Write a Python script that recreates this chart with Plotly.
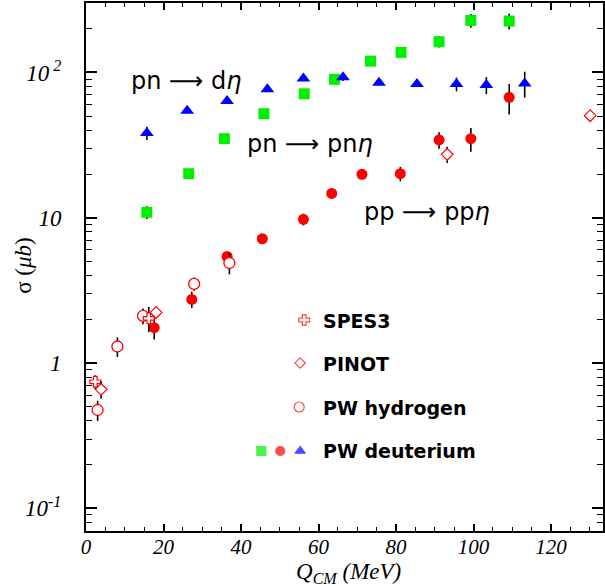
import plotly.graph_objects as go

# ---------------- data ----------------
# PW deuterium, pn -> d eta (blue triangles)
deta_x = [15.7, 26.1, 36.4, 46.8, 56.1, 66.3, 75.6, 85.4, 95.6, 103.3, 113.2]
deta_y = [38.3, 54.5, 63.6, 76.5, 91.0, 92.5, 84.9, 83.2, 83.2, 81.9, 84.1]
deta_err = [4, 2, 2, 2, 3, 5, 2, 3, 9, 11, 17]

# PW deuterium, pn -> pn eta (green squares)
pneta_x = [15.7, 26.5, 35.7, 45.9, 56.3, 64.1, 73.4, 81.3, 91.1, 99.3, 109.2]
pneta_y = [10.9, 20.1, 35.0, 52.0, 71.3, 89.7, 119.7, 137.5, 162.7, 228, 225.7]
pneta_err = [1.1, 0.8, 1, 1.5, 2, 2, 3, 4, 14, 25, 28]

# PW deuterium, pp -> pp eta (red filled circles)
ppeta_x = [17.6, 27.3, 36.4, 45.5, 56.1, 63.4, 71.2, 81.1, 91.1, 99.3, 109.2]
ppeta_y = [1.75, 2.74, 5.42, 7.17, 9.75, 14.7, 19.9, 20.1, 34.3, 35.0, 67.4]
ppeta_err = [0.3, 0.35, 0.3, 0.3, 0.9, 0.5, 1, 2.3, 4.5, 6.5, 16]

# PW hydrogen (open red circles)
hyd_x = [3.0, 8.1, 14.7, 27.9, 37.0]
hyd_y = [0.475, 1.30, 2.11, 3.51, 4.88]
hyd_err = [0.075, 0.2, 0.26, 0.37, 0.8]

# SPES3 (open red crosses)
spes_x = [2.4, 16.2]
spes_y = [0.743, 2.03]
spes_err = [0.08, 0.4]

# PINOT (open red diamonds)
pinot_x = [3.9, 18.1, 93.2, 130.1]
pinot_y = [0.659, 2.23, 27.3, 50.4]
pinot_err = [0.09, 0.2, 3.5, 0]

# axis ticks
x_ticks = [0, 20, 40, 60, 80, 100, 120]
x_ticktext = ["<i>%d</i>" % v for v in x_ticks]
y_tickvals = [0.1, 1, 10, 100]
y_ticktext = ["<i>10<sup>-1</sup></i>", "<i>1</i>", "<i>10</i>", "<i>10<sup> 2</sup></i>"]

# text labels
reaction_labels = ["pn ⟶ d<i>η</i>", "pn ⟶ pn<i>η</i>", "pp ⟶ pp<i>η</i>"]
legend_labels = ["SPES3", "PINOT", "PW hydrogen", "PW deuterium"]

# ---------------- styling ----------------
RED, GREEN, BLUE = "#ff0000", "#00f000", "#0000ff"
SERIF = "Liberation Serif"
SANS = "DejaVu Sans"


def err(vals):
    return dict(type="data", array=vals, color="black", thickness=1.6, width=0, visible=True)


fig = go.Figure()

fig.add_trace(go.Scatter(x=pneta_x, y=pneta_y, mode="markers", error_y=err(pneta_err),
                         marker=dict(symbol="square", size=11, color=GREEN, line=dict(width=0))))
fig.add_trace(go.Scatter(x=deta_x, y=deta_y, mode="markers", error_y=err(deta_err),
                         marker=dict(symbol="triangle-up", size=12, color=BLUE, line=dict(width=0))))
fig.add_trace(go.Scatter(x=ppeta_x, y=ppeta_y, mode="markers", error_y=err(ppeta_err),
                         marker=dict(symbol="circle", size=11, color=RED, line=dict(width=0))))
fig.add_trace(go.Scatter(x=hyd_x, y=hyd_y, mode="markers", error_y=err(hyd_err),
                         marker=dict(symbol="circle", size=11, color="white", line=dict(width=1.3, color=RED))))
fig.add_trace(go.Scatter(x=spes_x, y=spes_y, mode="markers", error_y=err(spes_err),
                         marker=dict(symbol="cross", size=9, color="white", line=dict(width=1.2, color=RED))))
fig.add_trace(go.Scatter(x=pinot_x, y=pinot_y, mode="markers", error_y=err(pinot_err),
                         marker=dict(symbol="diamond", size=9, color="white", line=dict(width=1.2, color=RED))))

# ---- custom legend on a pixel-like overlay axis ----
key_x = [305, 301, 300, 262, 281, 301]
key_y = [320, 363, 407, 451, 451, 451]
key_symbols = ["cross", "diamond", "circle", "square", "circle", "triangle-up"]
key_fill = ["white", "white", "white", GREEN, RED, BLUE]
key_line = [RED, RED, RED, GREEN, RED, BLUE]
key_size = [9, 8, 10, 9, 9, 9]
fig.add_trace(go.Scatter(x=key_x, y=key_y, xaxis="x2", yaxis="y2", mode="markers",
                         marker=dict(symbol=key_symbols, size=key_size, color=key_fill,
                                     line=dict(width=1.2, color=key_line))))

legend_text_y = [321, 363.5, 407.5, 450.5]
for lab, ty in zip(legend_labels, legend_text_y):
    fig.add_annotation(x=322, y=ty, xref="x2", yref="y2", text=lab, showarrow=False,
                       xanchor="left", yanchor="middle",
                       font=dict(family=SANS, size=19, color="black", weight="bold"))

reaction_pos = [(187, 81), (311, 144), (428, 212)]
for lab, (px, py) in zip(reaction_labels, reaction_pos):
    fig.add_annotation(x=px, y=py, xref="x2", yref="y2", text=lab, showarrow=False,
                       xanchor="center", yanchor="middle",
                       font=dict(family=SANS, size=24, color="black"))

# axis titles (paper coordinates, outside the plot area)
fig.add_annotation(x=0.5087, y=-0.08, xref="paper", yref="paper", showarrow=False,
                   text="<i>Q</i><sub><i>CM</i></sub><i> (MeV)</i>",
                   font=dict(family=SERIF, size=23, color="black"),
                   xanchor="center", yanchor="middle")
fig.add_annotation(x=-0.12, y=0.504, xref="paper", yref="paper", showarrow=False, textangle=-90,
                   text="σ (<i>μb</i>)", font=dict(family=SERIF, size=23, color="black"),
                   xanchor="center", yanchor="middle")

minor_y = [m * 10 ** e for e in range(-2, 3) for m in range(2, 10)]

fig.update_layout(
    width=605, height=586,
    margin=dict(l=86, r=0, t=3, b=55),
    paper_bgcolor="white", plot_bgcolor="white",
    showlegend=False,
    xaxis=dict(range=[0, 133.4], showline=True, linewidth=2, linecolor="black", mirror="ticks",
               ticks="inside", ticklen=7, tickwidth=1.5, tickcolor="black",
               tickmode="array", tickvals=x_ticks, ticktext=x_ticktext,
               minor=dict(ticks="inside", ticklen=4, tickwidth=1, tickcolor="black", dtick=5, tick0=0,
                          showgrid=False),
               tickfont=dict(family=SERIF, size=21, color="black"),
               ticklabelstandoff=-4,
               showgrid=False, zeroline=False),
    yaxis=dict(type="log", range=[-1.156, 2.478], showline=True, linewidth=2, linecolor="black",
               mirror="ticks", ticks="inside", ticklen=11, tickwidth=1.5, tickcolor="black",
               tickmode="array", tickvals=y_tickvals, ticktext=y_ticktext,
               minor=dict(ticks="inside", ticklen=6, tickwidth=1, tickcolor="black",
                          tickmode="array", tickvals=minor_y, showgrid=False),
               tickfont=dict(family=SERIF, size=23, color="black"),
               ticklabelstandoff=18,
               showgrid=False, zeroline=False),
    xaxis2=dict(overlaying="x", range=[86, 605], visible=False, fixedrange=True),
    yaxis2=dict(overlaying="y", range=[531, 3], visible=False, fixedrange=True),
)

fig.write_html("out.html", config={"displayModeBar": False},
               post_script="document.body.style.margin='0';")
